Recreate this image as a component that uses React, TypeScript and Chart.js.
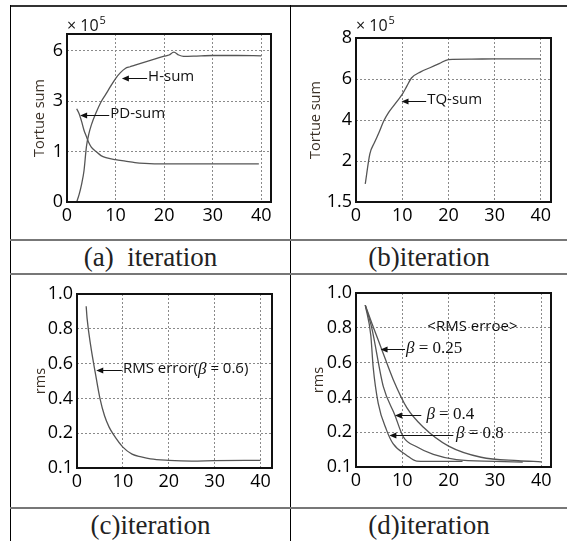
import React, { useEffect, useRef } from 'react';
import { Chart, registerables, LinearScale } from 'chart.js';

// ---------------- data ----------------
const X_STEP = 10;

// (a) Tortue sum (x 10^5)
const A_Y_TICKS = [0, 1, 3, 6];
const A_Y_LABELS = ['0', '1', '3', '6'];
const A_Y_TOP = 7;
const H_SUM_X = [2, 2.5, 3, 3.5, 4, 4.5, 5, 6, 7, 8, 9, 10, 11, 12, 13, 14, 16, 18, 20, 21, 22, 23, 24, 26, 30, 35, 40];
const H_SUM_Y = [0, 0.15, 0.35, 0.62, 1.2, 1.7, 2.05, 2.55, 2.97, 3.42, 3.9, 4.35, 4.7, 4.95, 5.05, 5.15, 5.33, 5.5, 5.68, 5.75, 5.92, 5.75, 5.67, 5.68, 5.72, 5.72, 5.7];
const PD_SUM_X = [2, 2.5, 3, 3.5, 4, 4.5, 5, 6, 7, 8, 10, 12, 14, 16, 20, 30, 39.5];
const PD_SUM_Y = [2.7, 2.5, 2.2, 1.85, 1.6, 1.35, 1.18, 1.0, 0.92, 0.88, 0.84, 0.81, 0.78, 0.765, 0.755, 0.755, 0.755];

// (b) Tortue sum (x 10^5)
const B_Y_TICKS = [1.5, 2, 4, 6, 8];
const B_Y_LABELS = ['1.5', '2', '4', '6', '8'];
const B_Y_TOP = 8;
const TQ_SUM_X = [2, 3, 4, 5, 6, 7, 8, 9, 10, 11, 12, 14, 16, 18, 20, 25, 30, 40];
const TQ_SUM_Y = [1.72, 2.35, 2.9, 3.4, 3.95, 4.35, 4.65, 4.95, 5.25, 5.65, 6.05, 6.35, 6.55, 6.75, 6.95, 6.97, 6.98, 6.98];

// (c), (d) rms
const RMS_Y_TICKS = [0.1, 0.2, 0.4, 0.6, 0.8, 1.0];
const RMS_Y_LABELS = ['0.1', '0.2', '0.4', '0.6', '0.8', '1.0'];
const RMS_Y_TOP = 1.0;
const RMS06_X = [2, 2.2, 3, 4, 5, 6, 7, 8, 10, 12, 14, 16, 20, 25, 30, 40];
const RMS06_Y = [0.93, 0.86, 0.7, 0.545, 0.4, 0.3, 0.235, 0.195, 0.16, 0.14, 0.132, 0.126, 0.122, 0.12, 0.121, 0.122];

const B025_X = [2, 3.5, 5.5, 8, 11, 14.5, 20, 27, 35, 40];
const B025_Y = [0.93, 0.82, 0.68, 0.505, 0.34, 0.23, 0.16, 0.128, 0.118, 0.115];
const B04_X = [2, 3.4, 5.9, 8.4, 10.2, 13.1, 16.7, 21.7, 30, 36];
const B04_Y = [0.93, 0.8, 0.462, 0.298, 0.187, 0.158, 0.136, 0.121, 0.116, 0.114];
const B08_X = [2, 3.2, 3.7, 4.8, 6.6, 8, 10.9, 13.1, 18, 23];
const B08_Y = [0.93, 0.756, 0.576, 0.366, 0.212, 0.167, 0.134, 0.117, 0.116, 0.116];

const CAPTIONS = ['(a)  iteration', '(b)iteration', '(c)iteration', '(d)iteration'];

// ---------------- piecewise axis ----------------
class PiecewiseScale extends (LinearScale as any) {
  static id = 'piecewise';
  static defaults = {};
  determineDataLimits() {
    const o: any = this.options;
    this.min = o.breaks[0];
    this.max = o.top;
  }
  buildTicks() {
    const o: any = this.options;
    return o.breaks.map((v: number) => ({ value: v }));
  }
  _dec(v: number) {
    const o: any = this.options;
    const b: number[] = o.breaks;
    const n = b.length - 1;
    const span = n + (o.top - b[n]) / (b[n] - b[n - 1]);
    let pos: number;
    if (v <= b[0]) pos = (v - b[0]) / (b[1] - b[0]);
    else if (v >= b[n]) pos = n + (v - b[n]) / (b[n] - b[n - 1]);
    else {
      let i = 0;
      while (v > b[i + 1]) i++;
      pos = i + (v - b[i]) / (b[i + 1] - b[i]);
    }
    return pos / span;
  }
  getPixelForValue(v: number) {
    if (v == null || isNaN(v)) return NaN;
    return (this as any).getPixelForDecimal(this._dec(v));
  }
  getValueForPixel(p: number) {
    const o: any = this.options;
    const b: number[] = o.breaks;
    const n = b.length - 1;
    const span = n + (o.top - b[n]) / (b[n] - b[n - 1]);
    const pos = (this as any).getDecimalForPixel(p) * span;
    if (pos >= n) return b[n] + (pos - n) * (b[n] - b[n - 1]);
    const i = Math.max(0, Math.floor(pos));
    return b[i] + (pos - i) * (b[i + 1] - b[i]);
  }
}

Chart.register(...registerables, PiecewiseScale as any);

// ---------------- panels ----------------
const SANS = '"Open Sans", "Noto Sans", sans-serif';
const SERIF = '"Liberation Serif", "DejaVu Serif", serif';
const ANN_FONT = `15px ${SANS}`;
const BETA_FONT = `italic 17px ${SERIF}`;
const EQ_FONT = `17px ${SERIF}`;

type Part = { t: string; f: string };
type Ann = { parts: Part[]; x: number; y: number; tip?: number; from?: number };
type Panel = {
  l: number; t: number; r: number; b: number; yW: number; xH: number; xMax: number;
  yTicks: number[]; yLabels: string[]; yTop: number; yTitle: string;
  series: { x: number[]; y: number[] }[];
  expDy?: number; anns: Ann[];
};

const PANELS: Panel[] = [
  {
    l: 67, t: 34, r: 271, b: 202, yW: 36, xH: 30, xMax: 42,
    yTicks: A_Y_TICKS, yLabels: A_Y_LABELS, yTop: A_Y_TOP, yTitle: 'Tortue sum',
    series: [{ x: H_SUM_X, y: H_SUM_Y }, { x: PD_SUM_X, y: PD_SUM_Y }],
    expDy: 3,
    anns: [
      { parts: [{ t: 'H-sum', f: ANN_FONT }], x: 16.7, y: 4.44, tip: 11.3 },
      { parts: [{ t: 'PD-sum', f: ANN_FONT }], x: 8.9, y: 2.51, tip: 2.7 },
    ],
  },
  {
    l: 356, t: 38, r: 551, b: 202, yW: 49, xH: 30, xMax: 42.2,
    yTicks: B_Y_TICKS, yLabels: B_Y_LABELS, yTop: B_Y_TOP, yTitle: 'Tortue sum',
    series: [{ x: TQ_SUM_X, y: TQ_SUM_Y }],
    expDy: 7,
    anns: [{ parts: [{ t: 'TQ-sum', f: ANN_FONT }], x: 15.4, y: 5.0, tip: 9.85 }],
  },
  {
    l: 77, t: 294, r: 272, b: 468, yW: 45, xH: 30, xMax: 42.5,
    yTicks: RMS_Y_TICKS, yLabels: RMS_Y_LABELS, yTop: RMS_Y_TOP, yTitle: 'rms',
    series: [{ x: RMS06_X, y: RMS06_Y }],
    anns: [
      {
        parts: [{ t: 'RMS error(', f: ANN_FONT }, { t: 'β', f: BETA_FONT }, { t: ' = 0.6)', f: ANN_FONT }],
        x: 10.0, y: 0.568, tip: 4.2,
      },
    ],
  },
  {
    l: 356, t: 293, r: 551, b: 467, yW: 46, xH: 30, xMax: 42.1,
    yTicks: RMS_Y_TICKS, yLabels: RMS_Y_LABELS, yTop: RMS_Y_TOP, yTitle: 'rms',
    series: [{ x: B025_X, y: B025_Y }, { x: B04_X, y: B04_Y }, { x: B08_X, y: B08_Y }],
    anns: [
      { parts: [{ t: '<RMS erroe>', f: ANN_FONT }], x: 15.4, y: 0.804 },
      { parts: [{ t: 'β', f: BETA_FONT }, { t: ' = 0.25', f: EQ_FONT }], x: 10.8, y: 0.682, tip: 5.3 },
      { parts: [{ t: 'β', f: BETA_FONT }, { t: ' = 0.4', f: EQ_FONT }], x: 15.2, y: 0.304, tip: 8.4, from: 14.1 },
      { parts: [{ t: 'β', f: BETA_FONT }, { t: ' = 0.8', f: EQ_FONT }], x: 21.6, y: 0.196, tip: 7.2, from: 21.0 },
    ],
  },
];

function makeDeco(p: Panel) {
  return {
    id: 'deco',
    afterDraw(chart: any) {
      const ctx: CanvasRenderingContext2D = chart.ctx;
      const { left, top, right, bottom } = chart.chartArea;
      const xs = chart.scales.x;
      const ys = chart.scales.y;
      ctx.save();
      // frame
      ctx.strokeStyle = '#111';
      ctx.lineWidth = 2;
      ctx.strokeRect(left, top, right - left, bottom - top);
      // exponent label
      if (p.expDy != null) {
        ctx.fillStyle = '#111';
        ctx.textAlign = 'left';
        ctx.textBaseline = 'alphabetic';
        ctx.font = `16px ${SANS}`;
        const base = top - p.expDy;
        ctx.fillText('× 10', left, base);
        const w = ctx.measureText('× 10').width;
        ctx.font = `11px ${SANS}`;
        ctx.fillText('5', left + w + 1, base - 7);
      }
      // annotations
      for (const a of p.anns) {
        const tx = xs.getPixelForValue(a.x);
        const ty = ys.getPixelForValue(a.y);
        ctx.fillStyle = '#111';
        ctx.textAlign = 'left';
        ctx.textBaseline = 'middle';
        let cx = tx;
        for (const part of a.parts) {
          ctx.font = part.f;
          ctx.fillText(part.t, cx, ty);
          cx += ctx.measureText(part.t).width;
        }
        if (a.tip != null) {
          const tip = xs.getPixelForValue(a.tip);
          const start = a.from != null ? xs.getPixelForValue(a.from) : tx - 1;
          const ay = Math.round(ty) + 1.5;
          ctx.strokeStyle = '#111';
          ctx.lineWidth = 1;
          ctx.beginPath();
          ctx.moveTo(start, ay);
          ctx.lineTo(tip + 5, ay);
          ctx.stroke();
          ctx.beginPath();
          ctx.moveTo(tip, ay);
          ctx.lineTo(tip + 7, ay - 3);
          ctx.lineTo(tip + 7, ay + 3);
          ctx.closePath();
          ctx.fill();
        }
      }
      ctx.restore();
    },
  };
}

function makeConfig(p: Panel): any {
  const tickFont = { family: SANS, size: 18 };
  return {
    type: 'line',
    data: {
      datasets: p.series.map((s) => ({
        data: s.x.map((x, i) => ({ x, y: s.y[i] })),
        borderColor: '#555',
        borderWidth: 1.3,
        pointRadius: 0,
        fill: false,
        cubicInterpolationMode: 'monotone',
      })),
    },
    options: {
      animation: false,
      responsive: false,
      events: [],
      layout: { padding: { left: p.l - p.yW, top: p.t, right: 567 - p.r, bottom: 541 - p.b - p.xH } },
      plugins: { legend: { display: false }, tooltip: { enabled: false }, title: { display: false } },
      scales: {
        x: {
          type: 'linear',
          min: 0,
          max: p.xMax,
          ticks: { stepSize: X_STEP, includeBounds: false, font: tickFont, color: '#000', padding: 3, maxRotation: 0, autoSkip: false },
          grid: { color: '#8a8a8a', lineWidth: 1, drawTicks: false },
          border: { display: false, dash: [2, 2] },
          afterFit: (s: any) => { s.height = p.xH; },
        },
        y: {
          type: 'piecewise',
          breaks: p.yTicks,
          top: p.yTop,
          ticks: {
            font: tickFont, color: '#000', padding: 4, autoSkip: false,
            callback: (_v: any, i: number) => p.yLabels[i],
          },
          grid: { color: '#8a8a8a', lineWidth: 1, drawTicks: false },
          border: { display: false, dash: [2, 2] },
          title: { display: true, text: p.yTitle, font: { family: SANS, size: 14.5 }, color: '#3a3026', padding: 0 },
          afterFit: (s: any) => { s.width = p.yW; },
        },
      },
    },
    plugins: [makeDeco(p)],
  };
}

function PanelChart({ panel }: { panel: Panel }) {
  const ref = useRef<HTMLCanvasElement>(null);
  useEffect(() => {
    const chart = new Chart(ref.current as HTMLCanvasElement, makeConfig(panel));
    return () => chart.destroy();
  }, [panel]);
  return (
    <canvas
      ref={ref}
      width={567}
      height={541}
      style={{ position: 'absolute', left: 0, top: 0, width: 567, height: 541, pointerEvents: 'none' }}
    />
  );
}

const line = (s: React.CSSProperties): React.CSSProperties => ({ position: 'absolute', ...s });

export default function App() {
  useEffect(() => {
    document.body.style.margin = '0';
  }, []);
  const capStyle = (left: number, top: number, width: number): React.CSSProperties => ({
    position: 'absolute', left, top, width, height: 33, lineHeight: '33px', textAlign: 'center',
    fontFamily: SERIF, fontSize: 27, color: '#222', whiteSpace: 'pre',
  });
  return (
    <div style={{ position: 'absolute', left: 0, top: 0, width: 567, height: 541, background: '#fff', overflow: 'hidden' }}>
      <div style={line({ left: 10, top: 5, width: 557, height: 2, background: '#333' })} />
      <div style={line({ left: 10, top: 5, width: 1, height: 536, background: '#000' })} />
      <div style={line({ left: 290, top: 5, width: 1, height: 536, background: '#000' })} />
      <div style={line({ left: 10, top: 239, width: 557, height: 2, background: '#777' })} />
      <div style={line({ left: 10, top: 273, width: 557, height: 2, background: '#777' })} />
      <div style={line({ left: 10, top: 507, width: 557, height: 2, background: '#777' })} />
      <div style={capStyle(11, 241, 279)}>{CAPTIONS[0]}</div>
      <div style={capStyle(291, 241, 276)}>{CAPTIONS[1]}</div>
      <div style={capStyle(11, 509, 279)}>{CAPTIONS[2]}</div>
      <div style={capStyle(291, 509, 276)}>{CAPTIONS[3]}</div>
      {PANELS.map((p, i) => (
        <PanelChart key={i} panel={p} />
      ))}
    </div>
  );
}
